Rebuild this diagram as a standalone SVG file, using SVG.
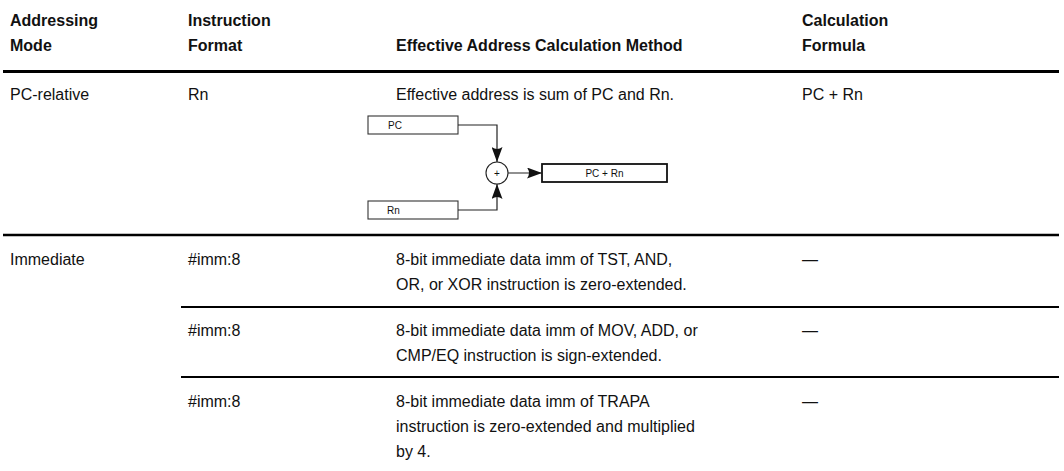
<svg xmlns="http://www.w3.org/2000/svg" width="1064" height="471" viewBox="0 0 1064 471">
<style>
text{font-family:"Liberation Sans",Arial,Helvetica,sans-serif;fill:#111}
.h{font-size:16px;font-weight:bold}
.t{font-size:16px}
.s{font-size:10px}
.rule{stroke:#000;fill:none}
.box{fill:#fff;stroke:#333;stroke-width:1.1}
.obox{fill:#fff;stroke:#111;stroke-width:1.8}
.wire{stroke:#222;stroke-width:1.2;fill:none}
</style>
<defs>
<marker id="ah" viewBox="0 0 15 11" refX="15" refY="5.5" markerWidth="15" markerHeight="11" markerUnits="userSpaceOnUse" orient="auto">
<path d="M0,0 Q4,5.5 0,11 L15,5.5 Z" fill="#111"/>
</marker>
</defs>
<rect width="1064" height="471" fill="#fff"/>
<g id="header">
<text class="h" x="10" y="26">Addressing</text>
<text class="h" x="10" y="51">Mode</text>
<text class="h" x="188" y="26">Instruction</text>
<text class="h" x="188" y="51">Format</text>
<text class="h" x="396" y="51">Effective Address Calculation Method</text>
<text class="h" x="802" y="26">Calculation</text>
<text class="h" x="802" y="51">Formula</text>
</g>
<g id="rules">
<line class="rule" x1="3" y1="71.5" x2="1059" y2="71.5" stroke-width="3"/>
<line class="rule" x1="3" y1="235" x2="1059" y2="235" stroke-width="2.5"/>
<line class="rule" x1="181" y1="307" x2="1059" y2="307" stroke-width="2"/>
<line class="rule" x1="181" y1="377" x2="1059" y2="377" stroke-width="2"/>
</g>
<g id="row-pc-relative">
<text class="t" x="10" y="100">PC-relative</text>
<text class="t" x="188" y="100">Rn</text>
<text class="t" x="396" y="100">Effective address is sum of PC and Rn.</text>
<text class="t" x="802" y="100">PC + Rn</text>
</g>
<g id="node-pc">
<rect class="box" x="368" y="116" width="90" height="18"/>
<text class="s" x="388" y="129">PC</text>
</g>
<g id="node-rn">
<rect class="box" x="368" y="201" width="90" height="18"/>
<text class="s" x="387" y="214">Rn</text>
</g>
<g id="node-adder">
<circle cx="497" cy="173" r="11" fill="#fff" stroke="#222" stroke-width="1.1"/>
<text class="s" x="497" y="176.5" text-anchor="middle">+</text>
</g>
<g id="node-result">
<rect class="obox" x="542" y="164" width="125" height="18"/>
<text class="s" x="604.5" y="176.5" text-anchor="middle">PC + Rn</text>
</g>
<g id="connectors">
<path class="wire" d="M458,125 H497 V162" marker-end="url(#ah)"/>
<path class="wire" d="M458,210 H497 V184" marker-end="url(#ah)"/>
<path class="wire" d="M508,173 H542" marker-end="url(#ah)"/>
</g>
<g id="row-immediate-1">
<text class="t" x="10" y="265">Immediate</text>
<text class="t" x="188" y="265">#imm:8</text>
<text class="t" x="396" y="265">8-bit immediate data imm of TST, AND,</text>
<text class="t" x="396" y="290">OR, or XOR instruction is zero-extended.</text>
<text class="t" x="802" y="265">—</text>
</g>
<g id="row-immediate-2">
<text class="t" x="188" y="336">#imm:8</text>
<text class="t" x="396" y="336">8-bit immediate data imm of MOV, ADD, or</text>
<text class="t" x="396" y="361">CMP/EQ instruction is sign-extended.</text>
<text class="t" x="802" y="336">—</text>
</g>
<g id="row-immediate-3">
<text class="t" x="188" y="407">#imm:8</text>
<text class="t" x="396" y="407">8-bit immediate data imm of TRAPA</text>
<text class="t" x="396" y="432">instruction is zero-extended and multiplied</text>
<text class="t" x="396" y="457">by 4.</text>
<text class="t" x="802" y="407">—</text>
</g>
</svg>
